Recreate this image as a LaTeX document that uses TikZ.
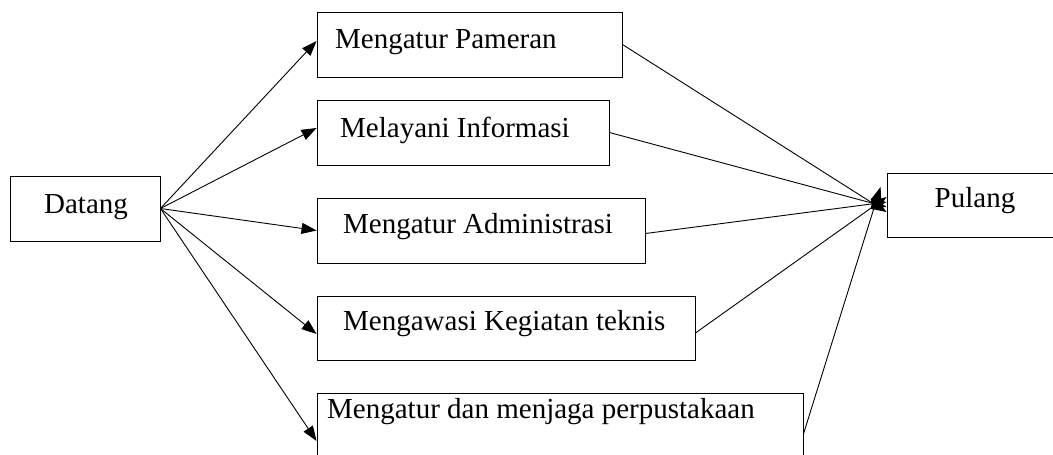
\documentclass[tikz,border=0pt]{standalone}
\usepackage{fontspec}
\setmainfont{Liberation Serif}
\usetikzlibrary{arrows.meta}
\tikzset{
  box/.style={draw=black, line width=0.9pt, rectangle, inner sep=0pt},
  lbl/.style={anchor=base west, inner sep=0pt, font=\fontsize{29}{33}\selectfont},
  clbl/.style={anchor=base, inner sep=0pt, font=\fontsize{29}{33}\selectfont},
  conn/.style={draw=black, line width=0.9pt, -{Triangle[length=15pt,width=11pt]}}
}
\begin{document}
\begin{tikzpicture}[x=1pt,y=-1pt]
\useasboundingbox (0,0) rectangle (1053,455);
\clip (0,0) rectangle (1053,455);
\fill[white] (0,0) rectangle (1053,455);
% boxes
\node[box, minimum width=150pt, minimum height=65pt] (dat) at (85,208.5) {};
\node[box, minimum width=305pt, minimum height=65pt] (b1) at (469.5,44.5) {};
\node[box, minimum width=292pt, minimum height=65pt] (b2) at (463,132.5) {};
\node[box, minimum width=328pt, minimum height=65pt] (b3) at (481,230.5) {};
\node[box, minimum width=378pt, minimum height=64pt] (b4) at (506,328) {};
\node[box, minimum width=486pt, minimum height=70pt] (b5) at (560,428) {};
\node[box, minimum width=175pt, minimum height=64pt] (pul) at (974.5,205) {};
% labels
\node[clbl] (tdat) at (86,213) {Datang};
\node[clbl] (tpul) at (975,207) {Pulang};
\node[lbl] (t1) at (335,48) {Mengatur Pameran};
\node[lbl] (t2) at (340,137) {Melayani Informasi};
\node[lbl] (t3) at (343,233) {Mengatur Administrasi};
\node[lbl] (t4) at (343,330) {Mengawasi Kegiatan teknis};
\node[lbl] (t5) at (327,418) {Mengatur dan menjaga perpustakaan};
% connectors from Datang
\draw[conn] (dat.east) -- ([yshift=3.5pt]b1.west);
\draw[conn] (dat.east) -- ([yshift=4.5pt]b2.west);
\draw[conn] (dat.east) -- (b3.west);
\draw[conn] (dat.east) -- ([yshift=-6pt]b4.west);
\draw[conn] (dat.east) -- ([yshift=-13pt]b5.west);
% connectors to Pulang
\draw[conn] (b1.east) -- ([yshift=-7pt]pul.west);
\draw[conn] (b2.east) -- ([yshift=-2pt]pul.west);
\draw[conn] ([yshift=-3pt]b3.east) -- ([yshift=3pt]pul.west);
\draw[conn] ([yshift=-5pt]b4.east) -- ([yshift=8pt]pul.west);
\draw[conn] ([yshift=-6pt]b5.east) -- ([xshift=-6pt,yshift=18pt]pul.west);
\end{tikzpicture}
\end{document}
